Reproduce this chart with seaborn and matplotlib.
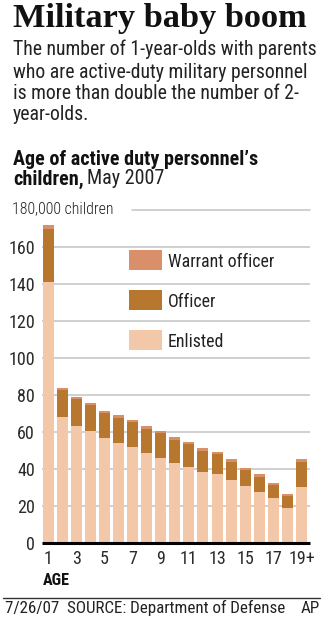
import matplotlib
matplotlib.use("Agg")
import matplotlib.pyplot as plt
import seaborn as sns
import pandas as pd
from matplotlib import font_manager as fm
from matplotlib.patches import Rectangle

ages = ["1", "2", "3", "4", "5", "6", "7", "8", "9", "10", "11", "12", "13", "14", "15", "16", "17", "18", "19+"]
tick_labels = ["1", "3", "5", "7", "9", "11", "13", "15", "17", "19+"]
enlisted = [141, 68, 63.4, 60.5, 56.7, 54, 51.9, 48.8, 46.3, 43.6, 41.4, 38.7, 37.3, 34.2, 31, 27.9, 24.3, 19.2, 30.6]
officer = [29, 14.8, 14.4, 14.4, 13.6, 13.9, 13.5, 13.1, 13.1, 12.2, 12.1, 11.3, 11, 9.9, 8.6, 8.1, 7.2, 6.4, 13.5]
warrant = [2, 1.1, 1.1, 1.1, 1.2, 1.3, 1.2, 1.3, 1.3, 1.5, 1.4, 1.3, 1.2, 1.3, 1.3, 1.3, 1.3, 0.9, 1.6]
y_ticks = [0, 20, 40, 60, 80, 100, 120, 140, 160]

c_enl = "#F2C8A9"
c_off = "#B8772E"
c_war = "#D9906A"

sns.set_theme(style="white")
available = {f.name for f in fm.fontManager.ttflist}
cands = ["Roboto Condensed", "Archivo Narrow", "PT Sans Narrow", "IBM Plex Sans Condensed",
         "Sofia Sans Semi Condensed", "Fira Sans Condensed", "Saira SemiCondensed", "Liberation Sans Narrow"]
COND = next((c for c in cands if c in available), "DejaVu Sans")
FAM = [COND, "DejaVu Sans"]
SERIF = ["Liberation Serif", "DejaVu Serif"]
plt.rcParams["font.family"] = FAM

df = pd.DataFrame({"age": ages, "Enlisted": enlisted, "Officer": officer, "Warrant officer": warrant})
df["enl_off"] = df["Enlisted"] + df["Officer"]
df["total"] = df["enl_off"] + df["Warrant officer"]

W, H = 323, 619
fig = plt.figure(figsize=(W / 100, H / 100), dpi=100)
ax = fig.add_axes([42 / W, 1 - 543.3 / H, 268 / W, (543.3 - 210) / H])

bw = 0.78
sns.barplot(data=df, x="age", y="total", order=ages, color=c_war, width=bw, ax=ax, zorder=2, saturation=1, linewidth=0)
sns.barplot(data=df, x="age", y="enl_off", order=ages, color=c_off, width=bw, ax=ax, zorder=3, saturation=1, linewidth=0)
sns.barplot(data=df, x="age", y="Enlisted", order=ages, color=c_enl, width=bw, ax=ax, zorder=4, saturation=1, linewidth=0)

ax.set_xlim(-0.43, 18.6)
ax.set_ylim(0, 180)
ax.set_xlabel("")
ax.set_ylabel("")
for s in ["top", "right", "left"]:
    ax.spines[s].set_visible(False)
ax.spines["bottom"].set_linewidth(2.2)
ax.spines["bottom"].set_color("black")
ax.spines["bottom"].set_zorder(6)
ax.spines["bottom"].set_capstyle("butt")

for v in y_ticks[1:] + [180]:
    if v == 180:
        ax.axhline(v, xmin=(132 - 42) / 268, xmax=1, color="#c4c4c4", lw=1.1, zorder=1, clip_on=False)
    else:
        ax.axhline(v, color="#c4c4c4", lw=1.1, zorder=1)

TS = 13
ax.set_yticks(y_ticks)
ax.set_yticklabels([str(v) for v in y_ticks], color="#2a2a2a", fontsize=TS)
ax.tick_params(axis="y", length=0, pad=5)
ax.set_xticks([ages.index(t) for t in tick_labels])
ax.set_xticklabels(tick_labels, color="#2a2a2a", fontsize=TS)
ax.tick_params(axis="x", length=0, pad=4.5)

renderer = fig.canvas.get_renderer()


def fit(t, target):
    for _ in range(3):
        w = t.get_window_extent(renderer).width
        t.set_fontsize(t.get_fontsize() * target / w)
    return t.get_fontsize()


def ftxt(x, y, s, size=12, **kw):
    kw.setdefault("color", "#222222")
    kw.setdefault("va", "baseline")
    kw.setdefault("ha", "left")
    return fig.text(x / W, 1 - y / H, s, fontsize=size, **kw)


t = ftxt(12, 213, "180,000 children", 10, fontweight="light")
fit(t, 103)

# legend
leg_items = [("Warrant officer", c_war), ("Officer", c_off), ("Enlisted", c_enl)]
for i, (lab, col) in enumerate(leg_items):
    yc = 260 + 40 * i
    fig.patches.append(Rectangle((129 / W, 1 - (yc + 10) / H), 33 / W, 20 / H,
                                 transform=fig.transFigure, facecolor=col, edgecolor="none", zorder=10))
    ftxt(168, yc + 6.8, lab, 12.9, zorder=11)

# titles
t = ftxt(13, 27, "Military baby boom", 24, fontweight="bold", family=SERIF, color="#111111")
fit(t, 294)

sub = ["The number of 1-year-olds with parents",
       "who are active-duty military personnel",
       "is more than double the number of 2-",
       "year-olds."]
base = [55, 77.5, 99, 119.5]
subs = [ftxt(13, b, line, 13) for line, b in zip(sub, base)]
ssize = fit(subs[1], 295)
for s in subs:
    s.set_fontsize(ssize)

t = ftxt(13, 165, "Age of active duty personnel’s", 13, fontweight="bold", color="#111111")
csize = fit(t, 244)
t1 = ftxt(13, 184.5, "children,", csize, fontweight="bold", color="#111111")
x1 = t1.get_window_extent(renderer).x1
ftxt(x1 + 3, 184.5, "May 2007", csize)

t = ftxt(43, 585, "AGE", 12, fontweight="bold", color="#111111")
fit(t, 27)

fig.add_artist(plt.Line2D([3 / W, 320 / W], [1 - 598 / H, 1 - 598 / H], transform=fig.transFigure,
                          color="#333333", lw=1.0))
t = ftxt(5, 613, "7/26/07  SOURCE: Department of Defense", 10)
fsize = fit(t, 280)
ftxt(320, 613, "AP", fsize, ha="right")

fig.savefig("out.png", dpi=100, facecolor="white")
